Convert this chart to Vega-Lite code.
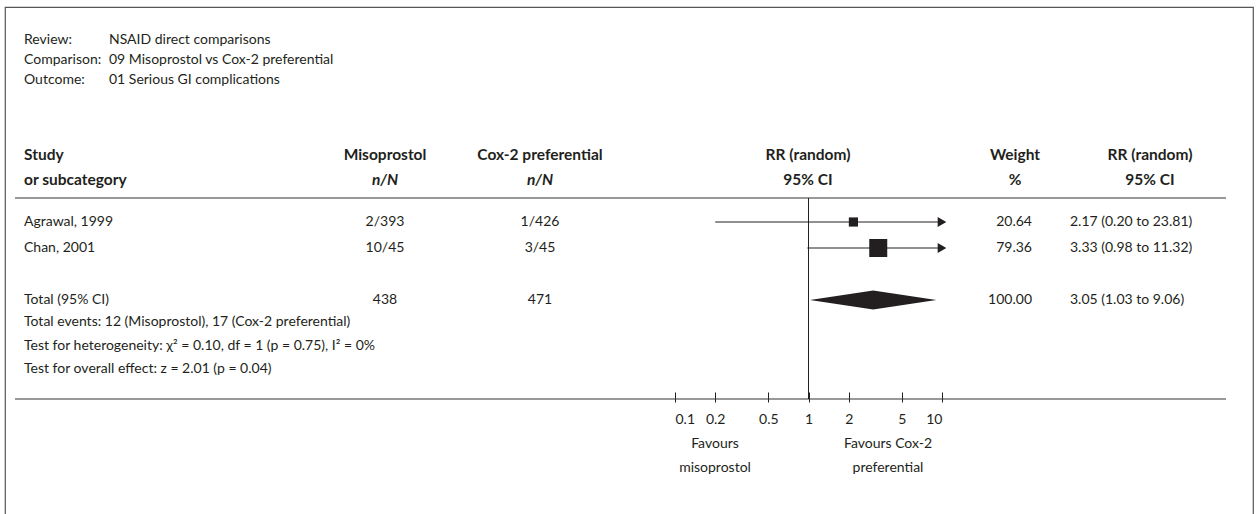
{
  "$schema": "https://vega.github.io/schema/vega-lite/v6.json",
  "width": 1248,
  "height": 508,
  "autosize": {"type": "none"},
  "padding": {"left": 5, "top": 7, "right": 6, "bottom": 0},
  "background": "white",
  "config": {
    "view": {"stroke": "#555555", "strokeWidth": 1.2},
    "text": {"font": "Lato", "fontSize": 14, "color": "#231f20", "baseline": "middle"},
    "rule": {"color": "#333333", "strokeWidth": 1.2}
  },
  "datasets": {
    "info": [
      {"label": "Review:", "value": "NSAID direct comparisons"},
      {"label": "Comparison:", "value": "09 Misoprostol vs Cox-2 preferential"},
      {"label": "Outcome:", "value": "01 Serious GI complications"}
    ],
    "rows": [
      {"study": "Agrawal, 1999", "kind": "study", "miso": "2/393", "cox": "1/426", "weight": 20.64, "rr": 2.17, "lo": 0.20, "hi": 23.81, "ci": "2.17 (0.20 to 23.81)"},
      {"study": "Chan, 2001", "kind": "study", "miso": "10/45", "cox": "3/45", "weight": 79.36, "rr": 3.33, "lo": 0.98, "hi": 11.32, "ci": "3.33 (0.98 to 11.32)"},
      {"study": "Total (95% CI)", "kind": "total", "miso": "438", "cox": "471", "weight": 100.00, "rr": 3.05, "lo": 1.03, "hi": 9.06, "ci": "3.05 (1.03 to 9.06)"}
    ],
    "notes": [
      {"note": "Total events: 12 (Misoprostol), 17 (Cox-2 preferential)"},
      {"note": "Test for heterogeneity: χ² = 0.10, df = 1 (p = 0.75), I² = 0%"},
      {"note": "Test for overall effect: z = 2.01 (p = 0.04)"}
    ],
    "one": [{}]
  },
  "resolve": {"scale": {"x": "independent", "y": "independent", "size": "independent"}},
  "layer": [
    {"data": {"name": "info"}, "mark": {"type": "text", "align": "left"},
     "encoding": {
       "x": {"datum": 1, "type": "quantitative", "axis": null, "scale": {"type": "linear", "domain": [0,1,2,3,4,5,6,7,8,9,10,11,12], "range": [10,19,104,380,535,710,803,883,1010,1027,1065,1145,1221], "zero": false, "nice": false}},
       "y": {"field": "label", "type": "nominal", "axis": null, "scale": {"type": "point", "domain": ["Review:", "Comparison:", "Outcome:"], "range": [33, 73], "padding": 0}},
       "text": {"field": "label"}}},
    {"data": {"name": "info"}, "mark": {"type": "text", "align": "left"},
     "encoding": {
       "x": {"datum": 2, "type": "quantitative", "axis": null, "scale": {"type": "linear", "domain": [0,1,2,3,4,5,6,7,8,9,10,11,12], "range": [10,19,104,380,535,710,803,883,1010,1027,1065,1145,1221], "zero": false, "nice": false}},
       "y": {"field": "label", "type": "nominal", "axis": null, "scale": {"type": "point", "domain": ["Review:", "Comparison:", "Outcome:"], "range": [33, 73], "padding": 0}},
       "text": {"field": "value"}}},

    {"data": {"name": "one"}, "mark": {"type": "text", "align": "left", "fontWeight": "bold", "fontSize": 15.5, "text": "Study"},
     "encoding": {
       "x": {"datum": 1, "type": "quantitative", "axis": null, "scale": {"type": "linear", "domain": [0,1,2,3,4,5,6,7,8,9,10,11,12], "range": [10,19,104,380,535,710,803,883,1010,1027,1065,1145,1221], "zero": false, "nice": false}},
       "y": {"datum": 0, "type": "quantitative", "axis": null, "scale": {"type": "linear", "domain": [0,1,2,3,4,5], "range": [148,173,191,392,437,461], "zero": false, "nice": false}}}},
    {"data": {"name": "one"}, "mark": {"type": "text", "align": "left", "fontWeight": "bold", "fontSize": 15.5, "text": "or subcategory"},
     "encoding": {
       "x": {"datum": 1, "type": "quantitative", "axis": null, "scale": {"type": "linear", "domain": [0,1,2,3,4,5,6,7,8,9,10,11,12], "range": [10,19,104,380,535,710,803,883,1010,1027,1065,1145,1221], "zero": false, "nice": false}},
       "y": {"datum": 1, "type": "quantitative", "axis": null, "scale": {"type": "linear", "domain": [0,1,2,3,4,5], "range": [148,173,191,392,437,461], "zero": false, "nice": false}}}},
    {"data": {"name": "one"}, "mark": {"type": "text", "align": "center", "fontWeight": "bold", "fontSize": 15.5, "text": "Misoprostol"},
     "encoding": {
       "x": {"datum": 3, "type": "quantitative", "axis": null, "scale": {"type": "linear", "domain": [0,1,2,3,4,5,6,7,8,9,10,11,12], "range": [10,19,104,380,535,710,803,883,1010,1027,1065,1145,1221], "zero": false, "nice": false}},
       "y": {"datum": 0, "type": "quantitative", "axis": null, "scale": {"type": "linear", "domain": [0,1,2,3,4,5], "range": [148,173,191,392,437,461], "zero": false, "nice": false}}}},
    {"data": {"name": "one"}, "mark": {"type": "text", "align": "center", "fontWeight": "bold", "fontSize": 15.5, "fontStyle": "italic", "text": "n/N"},
     "encoding": {
       "x": {"datum": 3, "type": "quantitative", "axis": null, "scale": {"type": "linear", "domain": [0,1,2,3,4,5,6,7,8,9,10,11,12], "range": [10,19,104,380,535,710,803,883,1010,1027,1065,1145,1221], "zero": false, "nice": false}},
       "y": {"datum": 1, "type": "quantitative", "axis": null, "scale": {"type": "linear", "domain": [0,1,2,3,4,5], "range": [148,173,191,392,437,461], "zero": false, "nice": false}}}},
    {"data": {"name": "one"}, "mark": {"type": "text", "align": "center", "fontWeight": "bold", "fontSize": 15.5, "text": "Cox-2 preferential"},
     "encoding": {
       "x": {"datum": 4, "type": "quantitative", "axis": null, "scale": {"type": "linear", "domain": [0,1,2,3,4,5,6,7,8,9,10,11,12], "range": [10,19,104,380,535,710,803,883,1010,1027,1065,1145,1221], "zero": false, "nice": false}},
       "y": {"datum": 0, "type": "quantitative", "axis": null, "scale": {"type": "linear", "domain": [0,1,2,3,4,5], "range": [148,173,191,392,437,461], "zero": false, "nice": false}}}},
    {"data": {"name": "one"}, "mark": {"type": "text", "align": "center", "fontWeight": "bold", "fontSize": 15.5, "fontStyle": "italic", "text": "n/N"},
     "encoding": {
       "x": {"datum": 4, "type": "quantitative", "axis": null, "scale": {"type": "linear", "domain": [0,1,2,3,4,5,6,7,8,9,10,11,12], "range": [10,19,104,380,535,710,803,883,1010,1027,1065,1145,1221], "zero": false, "nice": false}},
       "y": {"datum": 1, "type": "quantitative", "axis": null, "scale": {"type": "linear", "domain": [0,1,2,3,4,5], "range": [148,173,191,392,437,461], "zero": false, "nice": false}}}},
    {"data": {"name": "one"}, "mark": {"type": "text", "align": "center", "fontWeight": "bold", "fontSize": 15.5, "text": "RR (random)"},
     "encoding": {
       "x": {"datum": 6, "type": "quantitative", "axis": null, "scale": {"type": "linear", "domain": [0,1,2,3,4,5,6,7,8,9,10,11,12], "range": [10,19,104,380,535,710,803,883,1010,1027,1065,1145,1221], "zero": false, "nice": false}},
       "y": {"datum": 0, "type": "quantitative", "axis": null, "scale": {"type": "linear", "domain": [0,1,2,3,4,5], "range": [148,173,191,392,437,461], "zero": false, "nice": false}}}},
    {"data": {"name": "one"}, "mark": {"type": "text", "align": "center", "fontWeight": "bold", "fontSize": 15.5, "text": "95% CI"},
     "encoding": {
       "x": {"datum": 6, "type": "quantitative", "axis": null, "scale": {"type": "linear", "domain": [0,1,2,3,4,5,6,7,8,9,10,11,12], "range": [10,19,104,380,535,710,803,883,1010,1027,1065,1145,1221], "zero": false, "nice": false}},
       "y": {"datum": 1, "type": "quantitative", "axis": null, "scale": {"type": "linear", "domain": [0,1,2,3,4,5], "range": [148,173,191,392,437,461], "zero": false, "nice": false}}}},
    {"data": {"name": "one"}, "mark": {"type": "text", "align": "center", "fontWeight": "bold", "fontSize": 15.5, "text": "Weight"},
     "encoding": {
       "x": {"datum": 8, "type": "quantitative", "axis": null, "scale": {"type": "linear", "domain": [0,1,2,3,4,5,6,7,8,9,10,11,12], "range": [10,19,104,380,535,710,803,883,1010,1027,1065,1145,1221], "zero": false, "nice": false}},
       "y": {"datum": 0, "type": "quantitative", "axis": null, "scale": {"type": "linear", "domain": [0,1,2,3,4,5], "range": [148,173,191,392,437,461], "zero": false, "nice": false}}}},
    {"data": {"name": "one"}, "mark": {"type": "text", "align": "center", "fontWeight": "bold", "fontSize": 15.5, "text": "%"},
     "encoding": {
       "x": {"datum": 8, "type": "quantitative", "axis": null, "scale": {"type": "linear", "domain": [0,1,2,3,4,5,6,7,8,9,10,11,12], "range": [10,19,104,380,535,710,803,883,1010,1027,1065,1145,1221], "zero": false, "nice": false}},
       "y": {"datum": 1, "type": "quantitative", "axis": null, "scale": {"type": "linear", "domain": [0,1,2,3,4,5], "range": [148,173,191,392,437,461], "zero": false, "nice": false}}}},
    {"data": {"name": "one"}, "mark": {"type": "text", "align": "center", "fontWeight": "bold", "fontSize": 15.5, "text": "RR (random)"},
     "encoding": {
       "x": {"datum": 11, "type": "quantitative", "axis": null, "scale": {"type": "linear", "domain": [0,1,2,3,4,5,6,7,8,9,10,11,12], "range": [10,19,104,380,535,710,803,883,1010,1027,1065,1145,1221], "zero": false, "nice": false}},
       "y": {"datum": 0, "type": "quantitative", "axis": null, "scale": {"type": "linear", "domain": [0,1,2,3,4,5], "range": [148,173,191,392,437,461], "zero": false, "nice": false}}}},
    {"data": {"name": "one"}, "mark": {"type": "text", "align": "center", "fontWeight": "bold", "fontSize": 15.5, "text": "95% CI"},
     "encoding": {
       "x": {"datum": 11, "type": "quantitative", "axis": null, "scale": {"type": "linear", "domain": [0,1,2,3,4,5,6,7,8,9,10,11,12], "range": [10,19,104,380,535,710,803,883,1010,1027,1065,1145,1221], "zero": false, "nice": false}},
       "y": {"datum": 1, "type": "quantitative", "axis": null, "scale": {"type": "linear", "domain": [0,1,2,3,4,5], "range": [148,173,191,392,437,461], "zero": false, "nice": false}}}},

    {"data": {"name": "one"}, "mark": {"type": "rule"},
     "encoding": {
       "x": {"datum": 0, "type": "quantitative", "axis": null, "scale": {"type": "linear", "domain": [0,1,2,3,4,5,6,7,8,9,10,11,12], "range": [10,19,104,380,535,710,803,883,1010,1027,1065,1145,1221], "zero": false, "nice": false}},
       "x2": {"datum": 12},
       "y": {"datum": 2, "type": "quantitative", "axis": null, "scale": {"type": "linear", "domain": [0,1,2,3,4,5], "range": [148,173,191,392,437,461], "zero": false, "nice": false}}}},
    {"data": {"name": "one"}, "mark": {"type": "rule"},
     "encoding": {
       "x": {"datum": 0, "type": "quantitative", "axis": null, "scale": {"type": "linear", "domain": [0,1,2,3,4,5,6,7,8,9,10,11,12], "range": [10,19,104,380,535,710,803,883,1010,1027,1065,1145,1221], "zero": false, "nice": false}},
       "x2": {"datum": 12},
       "y": {"datum": 3, "type": "quantitative", "axis": null, "scale": {"type": "linear", "domain": [0,1,2,3,4,5], "range": [148,173,191,392,437,461], "zero": false, "nice": false}}}},

    {"data": {"name": "one"}, "mark": {"type": "rule", "color": "#231f20", "strokeWidth": 1},
     "encoding": {
       "x": {"datum": 1, "type": "quantitative",
             "scale": {"type": "log", "domain": [0.1, 10], "range": [670, 937], "clamp": true, "nice": false},
             "axis": {"values": [0.1, 0.2, 0.5, 1, 2, 5, 10], "format": "~g", "title": null, "domain": false, "grid": false,
                      "orient": "bottom", "offset": -113, "tickSize": -10, "tickColor": "#231f20", "tickWidth": 1,
                      "labelFont": "Lato", "labelFontSize": 14, "labelColor": "#231f20", "labelPadding": 20}},
       "y": {"datum": 2, "type": "quantitative", "axis": null, "scale": {"type": "linear", "domain": [0,1,2,3,4,5], "range": [148,173,191,392,437,461], "zero": false, "nice": false}},
       "y2": {"datum": 3}}},

    {"data": {"name": "rows"}, "mark": {"type": "text", "align": "left"},
     "encoding": {
       "x": {"datum": 1, "type": "quantitative", "axis": null, "scale": {"type": "linear", "domain": [0,1,2,3,4,5,6,7,8,9,10,11,12], "range": [10,19,104,380,535,710,803,883,1010,1027,1065,1145,1221], "zero": false, "nice": false}},
       "y": {"field": "study", "type": "nominal", "axis": null, "scale": {"type": "point", "domain": ["Agrawal, 1999", "Chan, 2001", " ", "Total (95% CI)"], "range": [215, 293], "padding": 0}},
       "text": {"field": "study"}}},
    {"data": {"name": "rows"}, "mark": {"type": "text", "align": "center"},
     "encoding": {
       "x": {"datum": 3, "type": "quantitative", "axis": null, "scale": {"type": "linear", "domain": [0,1,2,3,4,5,6,7,8,9,10,11,12], "range": [10,19,104,380,535,710,803,883,1010,1027,1065,1145,1221], "zero": false, "nice": false}},
       "y": {"field": "study", "type": "nominal", "axis": null, "scale": {"type": "point", "domain": ["Agrawal, 1999", "Chan, 2001", " ", "Total (95% CI)"], "range": [215, 293], "padding": 0}},
       "text": {"field": "miso"}}},
    {"data": {"name": "rows"}, "mark": {"type": "text", "align": "center"},
     "encoding": {
       "x": {"datum": 4, "type": "quantitative", "axis": null, "scale": {"type": "linear", "domain": [0,1,2,3,4,5,6,7,8,9,10,11,12], "range": [10,19,104,380,535,710,803,883,1010,1027,1065,1145,1221], "zero": false, "nice": false}},
       "y": {"field": "study", "type": "nominal", "axis": null, "scale": {"type": "point", "domain": ["Agrawal, 1999", "Chan, 2001", " ", "Total (95% CI)"], "range": [215, 293], "padding": 0}},
       "text": {"field": "cox"}}},
    {"data": {"name": "rows"}, "mark": {"type": "text", "align": "right"},
     "encoding": {
       "x": {"datum": 9, "type": "quantitative", "axis": null, "scale": {"type": "linear", "domain": [0,1,2,3,4,5,6,7,8,9,10,11,12], "range": [10,19,104,380,535,710,803,883,1010,1027,1065,1145,1221], "zero": false, "nice": false}},
       "y": {"field": "study", "type": "nominal", "axis": null, "scale": {"type": "point", "domain": ["Agrawal, 1999", "Chan, 2001", " ", "Total (95% CI)"], "range": [215, 293], "padding": 0}},
       "text": {"field": "weight", "type": "quantitative", "format": ".2f"}}},
    {"data": {"name": "rows"}, "mark": {"type": "text", "align": "left"},
     "encoding": {
       "x": {"datum": 10, "type": "quantitative", "axis": null, "scale": {"type": "linear", "domain": [0,1,2,3,4,5,6,7,8,9,10,11,12], "range": [10,19,104,380,535,710,803,883,1010,1027,1065,1145,1221], "zero": false, "nice": false}},
       "y": {"field": "study", "type": "nominal", "axis": null, "scale": {"type": "point", "domain": ["Agrawal, 1999", "Chan, 2001", " ", "Total (95% CI)"], "range": [215, 293], "padding": 0}},
       "text": {"field": "ci"}}},

    {"data": {"name": "rows"}, "transform": [{"filter": "datum.kind === 'study'"}],
     "mark": {"type": "rule", "color": "#231f20", "strokeWidth": 1},
     "encoding": {
       "x": {"field": "lo", "type": "quantitative", "axis": null, "scale": {"type": "log", "domain": [0.1, 10], "range": [670, 937], "clamp": true, "nice": false}},
       "x2": {"field": "hi"},
       "y": {"field": "study", "type": "nominal", "axis": null, "scale": {"type": "point", "domain": ["Agrawal, 1999", "Chan, 2001", " ", "Total (95% CI)"], "range": [215, 293], "padding": 0}}}},
    {"data": {"name": "rows"}, "transform": [{"filter": "datum.kind === 'study'"}],
     "mark": {"type": "point", "shape": "square", "filled": true, "opacity": 1, "color": "#231f20"},
     "encoding": {
       "x": {"field": "rr", "type": "quantitative", "axis": null, "scale": {"type": "log", "domain": [0.1, 10], "range": [670, 937], "clamp": true, "nice": false}},
       "y": {"field": "study", "type": "nominal", "axis": null, "scale": {"type": "point", "domain": ["Agrawal, 1999", "Chan, 2001", " ", "Total (95% CI)"], "range": [215, 293], "padding": 0}},
       "size": {"field": "weight", "type": "quantitative", "legend": null, "scale": {"domain": [0, 100], "range": [0, 408]}}}},
    {"data": {"name": "rows"}, "transform": [{"filter": "datum.kind === 'study' && datum.hi > 10"}],
     "mark": {"type": "point", "shape": "triangle-right", "filled": true, "opacity": 1, "color": "#231f20", "size": 100},
     "encoding": {
       "x": {"field": "hi", "type": "quantitative", "axis": null, "scale": {"type": "log", "domain": [0.1, 10], "range": [670, 937], "clamp": true, "nice": false}},
       "y": {"field": "study", "type": "nominal", "axis": null, "scale": {"type": "point", "domain": ["Agrawal, 1999", "Chan, 2001", " ", "Total (95% CI)"], "range": [215, 293], "padding": 0}}}},
    {"data": {"name": "rows"}, "transform": [{"filter": "datum.kind === 'total'"}],
     "mark": {"type": "point", "shape": "M-1,0L0,-0.15L1,0L0,0.15Z", "filled": true, "opacity": 1, "color": "#231f20", "size": 16000},
     "encoding": {
       "x": {"field": "rr", "type": "quantitative", "axis": null, "scale": {"type": "log", "domain": [0.1, 10], "range": [670, 937], "clamp": true, "nice": false}},
       "y": {"field": "study", "type": "nominal", "axis": null, "scale": {"type": "point", "domain": ["Agrawal, 1999", "Chan, 2001", " ", "Total (95% CI)"], "range": [215, 293], "padding": 0}}}},

    {"data": {"name": "notes"}, "mark": {"type": "text", "align": "left"},
     "encoding": {
       "x": {"datum": 1, "type": "quantitative", "axis": null, "scale": {"type": "linear", "domain": [0,1,2,3,4,5,6,7,8,9,10,11,12], "range": [10,19,104,380,535,710,803,883,1010,1027,1065,1145,1221], "zero": false, "nice": false}},
       "y": {"field": "note", "type": "nominal", "axis": null, "sort": null, "scale": {"type": "point", "range": [315, 362], "padding": 0}},
       "text": {"field": "note"}}},

    {"data": {"name": "one"}, "mark": {"type": "text", "align": "center", "text": "Favours"},
     "encoding": {
       "x": {"datum": 5, "type": "quantitative", "axis": null, "scale": {"type": "linear", "domain": [0,1,2,3,4,5,6,7,8,9,10,11,12], "range": [10,19,104,380,535,710,803,883,1010,1027,1065,1145,1221], "zero": false, "nice": false}},
       "y": {"datum": 4, "type": "quantitative", "axis": null, "scale": {"type": "linear", "domain": [0,1,2,3,4,5], "range": [148,173,191,392,437,461], "zero": false, "nice": false}}}},
    {"data": {"name": "one"}, "mark": {"type": "text", "align": "center", "text": "misoprostol"},
     "encoding": {
       "x": {"datum": 5, "type": "quantitative", "axis": null, "scale": {"type": "linear", "domain": [0,1,2,3,4,5,6,7,8,9,10,11,12], "range": [10,19,104,380,535,710,803,883,1010,1027,1065,1145,1221], "zero": false, "nice": false}},
       "y": {"datum": 5, "type": "quantitative", "axis": null, "scale": {"type": "linear", "domain": [0,1,2,3,4,5], "range": [148,173,191,392,437,461], "zero": false, "nice": false}}}},
    {"data": {"name": "one"}, "mark": {"type": "text", "align": "center", "text": "Favours Cox-2"},
     "encoding": {
       "x": {"datum": 7, "type": "quantitative", "axis": null, "scale": {"type": "linear", "domain": [0,1,2,3,4,5,6,7,8,9,10,11,12], "range": [10,19,104,380,535,710,803,883,1010,1027,1065,1145,1221], "zero": false, "nice": false}},
       "y": {"datum": 4, "type": "quantitative", "axis": null, "scale": {"type": "linear", "domain": [0,1,2,3,4,5], "range": [148,173,191,392,437,461], "zero": false, "nice": false}}}},
    {"data": {"name": "one"}, "mark": {"type": "text", "align": "center", "text": "preferential"},
     "encoding": {
       "x": {"datum": 7, "type": "quantitative", "axis": null, "scale": {"type": "linear", "domain": [0,1,2,3,4,5,6,7,8,9,10,11,12], "range": [10,19,104,380,535,710,803,883,1010,1027,1065,1145,1221], "zero": false, "nice": false}},
       "y": {"datum": 5, "type": "quantitative", "axis": null, "scale": {"type": "linear", "domain": [0,1,2,3,4,5], "range": [148,173,191,392,437,461], "zero": false, "nice": false}}}}
  ]
}
